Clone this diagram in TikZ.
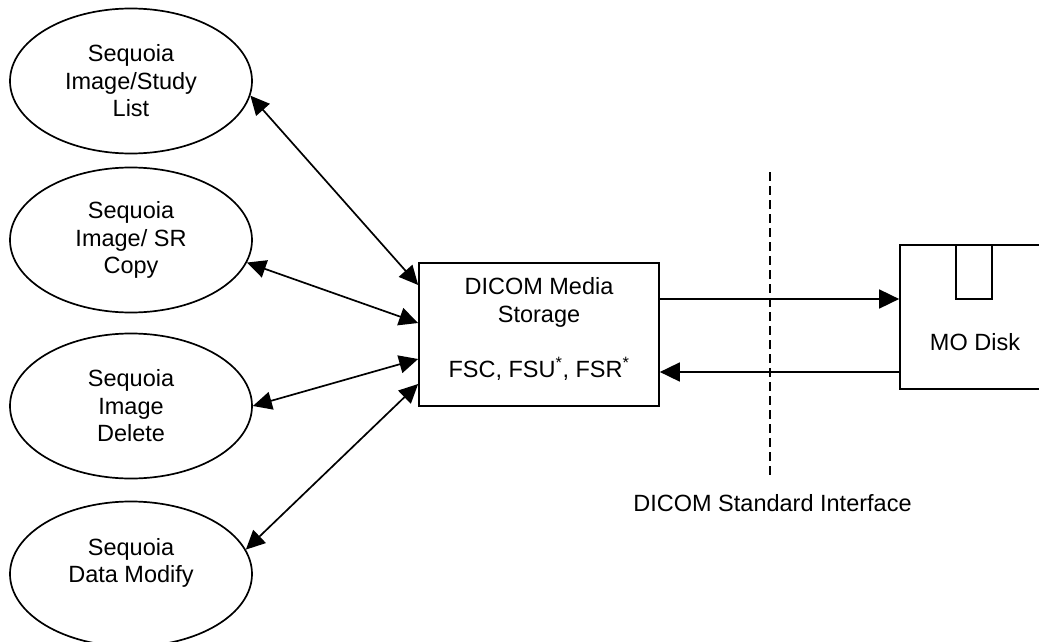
\documentclass[tikz,border=0pt]{standalone}
\usepackage{fontspec}
\setmainfont{Liberation Sans}
\usetikzlibrary{arrows.meta,shapes.geometric}
\begin{document}
\begin{tikzpicture}[x=1pt,y=-1pt,
  every node/.style={font=\fontsize{23.5}{27.5}\selectfont},
  oval/.style={draw, ellipse, line width=1.7pt, minimum width=242pt, minimum height=145pt, inner sep=0pt, align=center},
  box/.style={draw, rectangle, line width=1.7pt, inner sep=0pt},
  link/.style={line width=1.7pt, {Triangle[length=19pt,width=18pt]}-{Triangle[length=19pt,width=18pt]}},
  one/.style={line width=1.7pt, -{Triangle[length=20pt,width=19pt]}},
  divider/.style={line width=2pt, dash pattern=on 9pt off 5pt}]
\clip (0,0) rectangle (1039,642);
\node[oval] (e1) at (131,81) {Sequoia\\Image/Study\\List};
\node[oval] (e2) at (131,240) {Sequoia\\Image/ SR\\Copy};
\node[oval] (e3) at (131,406) {Sequoia\\Image\\Delete};
\node[oval] (e4) at (131,574) {Sequoia\\Data Modify\\\mbox{}};
\node[box, minimum width=240pt, minimum height=143pt, align=center, text depth=14pt] (dms) at (539,334.5)
  {DICOM Media\\Storage\\[27.5pt]FSC, FSU\textsuperscript{*}, FSR\textsuperscript{*}};
\node[box, minimum width=150pt, minimum height=144pt] (mo) at (975,317) {};
\node (mol) at (975,342) {MO Disk};
\draw[line width=1.7pt] (956,245) rectangle (992,299);
\draw[link] (e1.-7) -- ([yshift=49.5pt]dms.west);
\draw[link] (e2.-11) -- ([yshift=11.5pt]dms.west);
\draw[link] (e3.east) -- ([yshift=-24.5pt]dms.west);
\draw[link] (e4.12) -- ([yshift=-49.5pt]dms.west);
\coordinate (h1) at ([yshift=35.5pt]dms.east);
\draw[one] (h1) -- (h1 -| mo.west);
\coordinate (h2) at ([yshift=-55pt]mo.west);
\draw[one] (h2) -- (h2 -| dms.east);
\coordinate (dtop) at (770,172);
\coordinate (dbot) at (770,476);
\draw[divider] (dtop) -- (dbot);
\node (dsi) at (772.5,503) {DICOM Standard Interface};
\end{tikzpicture}
\end{document}
